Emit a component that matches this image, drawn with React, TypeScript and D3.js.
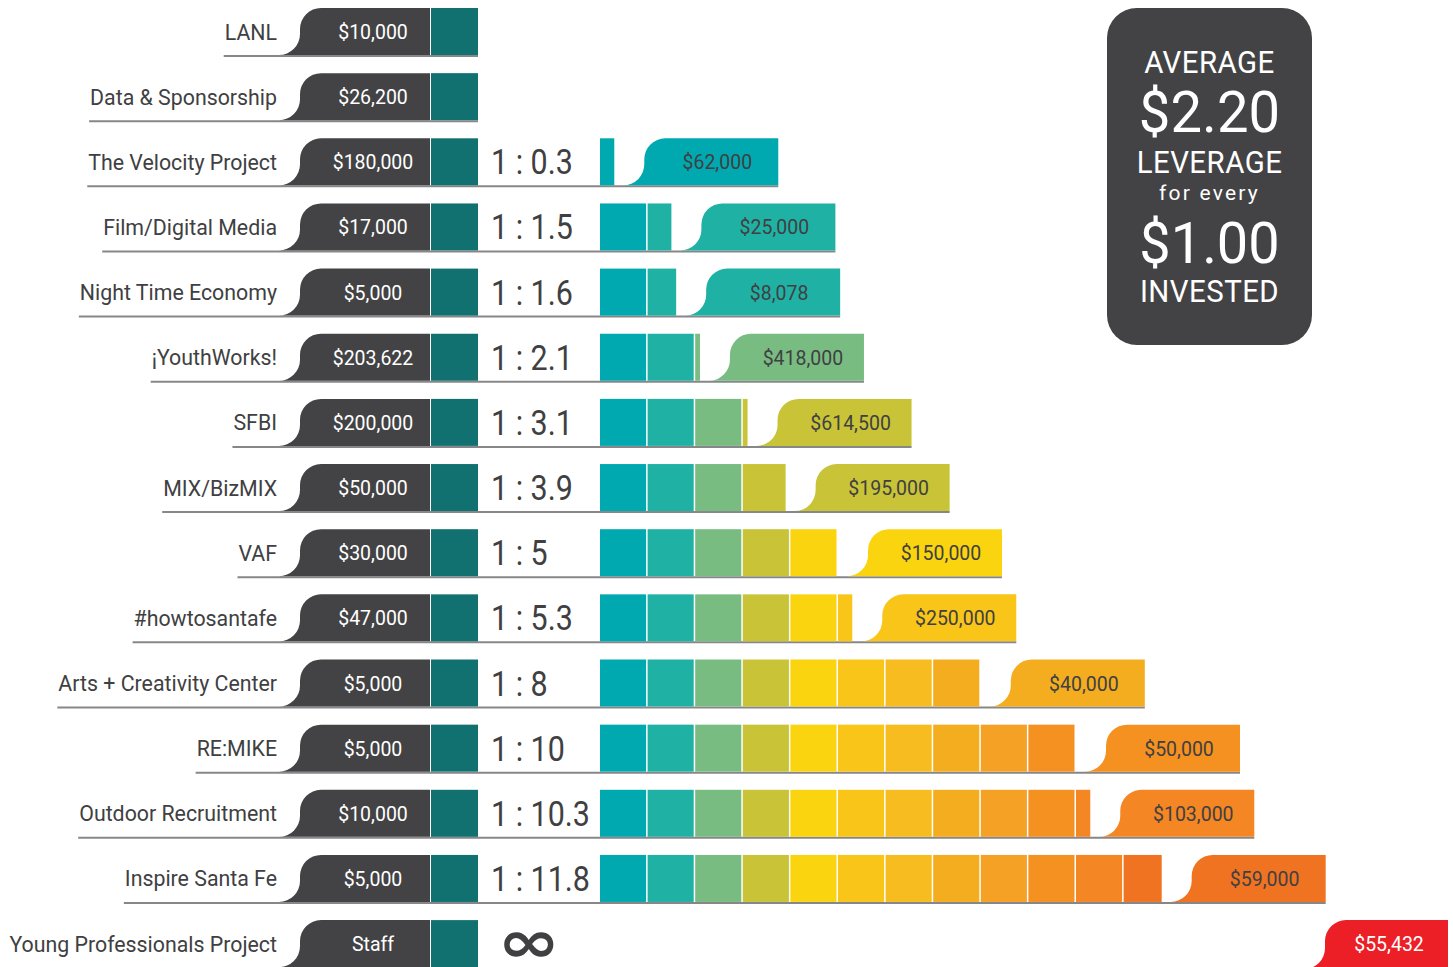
import React, { useEffect, useRef } from "react";
import * as d3 from "d3";

const labels = [
  "LANL",
  "Data & Sponsorship",
  "The Velocity Project",
  "Film/Digital Media",
  "Night Time Economy",
  "¡YouthWorks!",
  "SFBI",
  "MIX/BizMIX",
  "VAF",
  "#howtosantafe",
  "Arts + Creativity Center",
  "RE:MIKE",
  "Outdoor Recruitment",
  "Inspire Santa Fe",
  "Young Professionals Project",
];
const invested = [
  "$10,000", "$26,200", "$180,000", "$17,000", "$5,000", "$203,622", "$200,000",
  "$50,000", "$30,000", "$47,000", "$5,000", "$5,000", "$10,000", "$5,000", "Staff",
];
const ratios: (number | null)[] = [
  null, null, 0.3, 1.5, 1.6, 2.1, 3.1, 3.9, 5, 5.3, 8, 10, 10.3, 11.8, Infinity,
];
const ratioLabels = [
  "", "", "1 : 0.3", "1 : 1.5", "1 : 1.6", "1 : 2.1", "1 : 3.1", "1 : 3.9", "1 : 5",
  "1 : 5.3", "1 : 8", "1 : 10", "1 : 10.3", "1 : 11.8", "∞",
];
const leveraged = [
  "", "", "$62,000", "$25,000", "$8,078", "$418,000", "$614,500", "$195,000",
  "$150,000", "$250,000", "$40,000", "$50,000", "$103,000", "$59,000", "$55,432",
];
const unitColors = [
  "#00A8B0", "#20B1A5", "#78BC82", "#C9C437", "#FAD40F", "#F9C519",
  "#F7BC1F", "#F5AD20", "#F4A125", "#F59120", "#F48624", "#F07322",
];
const infiniteColor = "#EC1F27";
const avgLines = ["AVERAGE", "$2.20", "LEVERAGE", "for every", "$1.00", "INVESTED"];

const W = 1453;
const H = 967;
const DARK = "#434345";
const TEXT = "#404042";
const FONT = "Roboto, 'Liberation Sans', sans-serif";

function tabPath(x0: number, x1: number, top: number, bottom: number, r: number) {
  const p = d3.path();
  p.moveTo(x0, bottom);
  p.arc(x0, bottom - r, r, Math.PI / 2, 0, true);
  p.lineTo(x0 + r, top + r);
  p.arc(x0 + 2 * r, top + r, r, Math.PI, 1.5 * Math.PI, false);
  p.lineTo(x1, top);
  p.lineTo(x1, bottom);
  p.closePath();
  return p.toString();
}

export default function App() {
  const ref = useRef<SVGSVGElement | null>(null);

  useEffect(() => {
    document.body.style.margin = "0";
    const svg = d3.select(ref.current);
    svg.selectAll("*").remove();

    const rowY = d3.scaleLinear().domain([0, 1]).range([8, 8 + 65.15]);
    const rowH = 47;
    const x = d3.scaleLinear().domain([0, 12]).range([600, 600 + 12 * 47.6]);
    const labelRight = 277;
    const labelSx = 0.97;
    const darkX0 = 279;
    const darkX1 = 430;
    const sqX1 = 478;
    const r = 21;
    const tabGap = 9;
    const tabW = 155;

    const g = svg.append("g");

    labels.forEach((lab, i) => {
      const top = rowY(i);
      const bottom = top + rowH;
      const row = g.append("g");

      const ratio = ratios[i];
      let lineEnd = sqX1;
      let tabX0 = 0;
      let tabX1 = 0;
      if (ratio !== null && isFinite(ratio)) {
        tabX0 = x(ratio) + tabGap;
        tabX1 = tabX0 + tabW;
        lineEnd = tabX1;
      } else if (ratio === Infinity) {
        tabX0 = W - 149;
        tabX1 = W - 5;
        lineEnd = tabX1;
      }

      // label
      const t = row
        .append("text")
        .attr("transform", `translate(${labelRight},${top + 31.5})scale(${labelSx},1)`)
        .attr("text-anchor", "end")
        .attr("font-family", FONT)
        .attr("font-size", 22)
        .attr("fill", TEXT)
        .text(lab);
      const tw = (t.node() as SVGTextElement).getComputedTextLength() * labelSx;

      // underline
      row
        .append("line")
        .attr("x1", labelRight - tw - 1)
        .attr("x2", lineEnd)
        .attr("y1", bottom + 1)
        .attr("y2", bottom + 1)
        .attr("stroke", "#87878a")
        .attr("stroke-width", 2);

      // dark invested tab
      row.append("path").attr("d", tabPath(darkX0, darkX1, top, bottom, r)).attr("fill", DARK);
      row
        .append("rect")
        .attr("x", darkX1 + 1)
        .attr("y", top)
        .attr("width", sqX1 - darkX1 - 1)
        .attr("height", rowH)
        .attr("fill", "#117070");
      row
        .append("text")
        .attr("transform", `translate(${(darkX0 + 2 * r + darkX1) / 2 - 2.5},${top + 31})scale(0.93,1)`)
        .attr("text-anchor", "middle")
        .attr("font-family", FONT)
        .attr("font-size", 21)
        .attr("fill", "#ffffff")
        .text(invested[i]);

      if (ratio === null) return;

      if (isFinite(ratio)) {
        row
          .append("text")
          .attr("transform", `translate(491,${top + 36})scale(0.87,1)`)
          .attr("font-family", FONT)
          .attr("font-size", 35)
          .attr("fill", TEXT)
          .text(ratioLabels[i]);

        const n = Math.ceil(ratio);
        const segs = d3.range(n).map((k) => ({ k, a: k, b: Math.min(k + 1, ratio) }));
        row
          .selectAll("rect.seg")
          .data(segs)
          .join("rect")
          .attr("class", "seg")
          .attr("x", (d) => x(d.a))
          .attr("y", top)
          .attr("width", (d) => Math.max(1.5, x(d.b) - x(d.a) - (d.b - d.a === 1 ? 1.5 : 0)))
          .attr("height", rowH)
          .attr("fill", (d) => unitColors[d.k]);

        const col = unitColors[n - 1];
        row.append("path").attr("d", tabPath(tabX0, tabX1, top, bottom, r)).attr("fill", col);
        row
          .append("text")
          .attr("transform", `translate(${tabX0 + 94},${top + 31})scale(0.93,1)`)
          .attr("text-anchor", "middle")
          .attr("font-family", FONT)
          .attr("font-size", 21)
          .attr("fill", TEXT)
          .text(leveraged[i]);
      } else {
        row
          .append("text")
          .attr("transform", `translate(529,${top + 42})scale(1.35,1.05)`)
          .attr("text-anchor", "middle")
          .attr("font-family", "'DejaVu Sans', sans-serif")
          .attr("font-weight", "bold")
          .attr("font-size", 56)
          .attr("fill", TEXT)
          .text(ratioLabels[i]);
        row.append("path").attr("d", tabPath(tabX0, tabX1, top, bottom + 2, r)).attr("fill", infiniteColor);
        row
          .append("text")
          .attr("transform", `translate(${tabX0 + 85},${top + 31})scale(0.93,1)`)
          .attr("text-anchor", "middle")
          .attr("font-family", FONT)
          .attr("font-size", 21)
          .attr("fill", "#ffffff")
          .text(leveraged[i]);
      }
    });

    // average box
    const bx = 1107;
    const by = 8;
    const bw = 205;
    const bh = 337;
    const box = svg.append("g");
    box.append("rect").attr("x", bx).attr("y", by).attr("width", bw).attr("height", bh).attr("rx", 30).attr("fill", DARK);
    const cx = bx + bw / 2;
    const specs = [
      { y: 73, size: 32, sx: 0.92, ls: 0.5 },
      { y: 132, size: 58, sx: 0.97, ls: 0 },
      { y: 173, size: 32, sx: 0.92, ls: 0.5 },
      { y: 200, size: 21, sx: 1, ls: 2.2 },
      { y: 263, size: 57, sx: 0.98, ls: 0 },
      { y: 302, size: 32, sx: 0.92, ls: 0.5 },
    ];
    avgLines.forEach((s, k) => {
      const sp = specs[k];
      box
        .append("text")
        .attr("transform", `translate(${cx},${sp.y})scale(${sp.sx},1)`)
        .attr("text-anchor", "middle")
        .attr("font-family", FONT)
        .attr("font-size", sp.size)
        .attr("letter-spacing", sp.ls)
        .attr("fill", "#ffffff")
        .text(s);
    });
  }, []);

  return <svg ref={ref} width={W} height={H} style={{ display: "block" }} />;
}
